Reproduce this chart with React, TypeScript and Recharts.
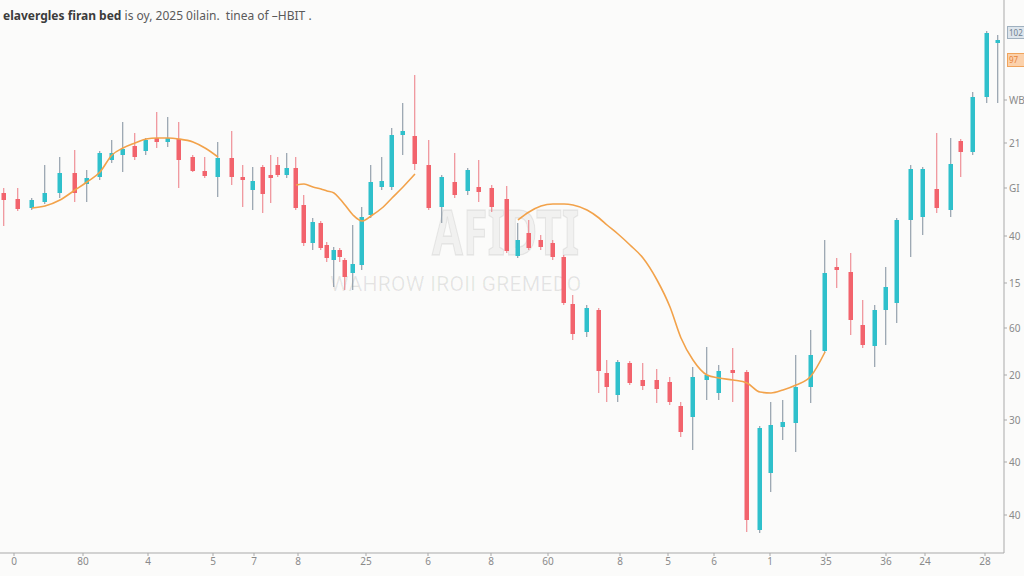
import { Bar, ComposedChart, Line, XAxis, YAxis } from 'recharts';

// session time of each candle, left to right
const sessions = [
  0.4, 1.8, 3.2, 4.5, 6.0, 7.5, 8.7, 10.0, 11.2, 12.3, 13.5, 14.6, 15.7, 16.8, 17.9, 19.3, 20.5, 21.8, 23.2, 24.3,
  25.3, 26.3, 27.1, 27.8, 28.7, 29.6, 30.4, 31.3, 32.1, 32.7, 33.4, 34.0, 34.5, 35.3, 36.2, 37.1, 38.2, 39.2, 40.3, 41.5,
  42.9, 44.2, 45.5, 46.8, 47.9, 49.2, 50.7, 51.8, 52.9, 54.1, 55.3, 56.4, 57.3, 58.7, 59.9, 60.7, 61.8, 63.0, 64.3, 65.7,
  67.0, 68.1, 69.3, 70.7, 71.9, 73.3, 74.7, 76.0, 77.1, 78.3, 79.6, 81.1, 82.5, 83.7, 85.1, 86.3, 87.5, 88.6, 89.7, 91.1,
  92.3, 93.7, 95.1, 96.1, 97.3, 98.7, 99.8,
];

const opens = [
  72, 70.8, 69, 70.2, 72, 76, 73.8, 75.2, 78.6, 79.6, 81.4, 80.4, 83, 82.2, 82.8, 79.2, 76.4, 75.2, 79, 75.2,
  72.6, 77.2, 75.6, 77.6, 75.6, 77, 69.6, 62, 66, 61.6, 58.6, 60.6, 58.6, 56, 57.6, 67.6, 73.2, 73.2, 83.6, 83.4,
  77.6, 69.2, 74.2, 72.4, 73.2, 73, 70.8, 59.4, 64, 62.6, 62, 59.2, 49.8, 44.2, 48.6, 36, 31.6, 38, 34.6, 34.6,
  34.2, 29.4, 27.2, 34.6, 32, 36.6, 36.2, 4.6, 16, 25.2, 26, 33.2, 40.4, 57.2, 56.2, 45.6, 41.4, 48.6, 50, 66.6,
  67.2, 72.8, 68.6, 82.4, 80.2, 91.2, 102,
];

const closes = [
  70.6, 68.8, 70.6, 72, 76, 72, 75, 80, 80, 80.8, 79.2, 82.6, 82.2, 83, 78.6, 76.4, 75.4, 79, 75.2, 74.6,
  74.4, 71.8, 75, 75.6, 77, 69, 62, 66.2, 61, 59, 60.6, 59.2, 55.2, 57.8, 67.2, 74.2, 74.4, 83.6, 84.4, 77.8,
  69, 75.2, 71.6, 76.6, 72.2, 69.2, 60.4, 62.6, 61, 61.2, 59.2, 50, 43.8, 49, 36.4, 33.2, 38.2, 34, 33.4, 32.8,
  30.2, 24.2, 35.2, 35.6, 36.4, 36, 6.6, 25, 25.6, 26.2, 33.2, 39.6, 56, 56.6, 46.6, 41.6, 48.6, 53.2, 66.6, 76.8,
  76.8, 69, 77.8, 80.2, 91.2, 104, 102.6,
];

const highs = [
  73, 73, 71, 77.6, 79.2, 80.6, 76.6, 80.4, 82.6, 86.2, 84, 83, 88.2, 87.2, 86.2, 79.6, 79.2, 82.2, 84.4, 77.6,
  77.2, 77.6, 79.6, 79.2, 80, 79.2, 71.6, 67, 66.4, 62.2, 61.2, 61, 59, 65.6, 69.2, 77.6, 79.2, 85, 90, 95.6,
  82.6, 75.6, 80, 77, 78.6, 73.6, 73.4, 66, 66.6, 63.6, 62.6, 59.6, 51.6, 49.6, 49, 38.6, 38.6, 38.4, 38, 36.8,
  35.2, 30.2, 37.2, 41.2, 37.6, 41, 36.6, 25.4, 30.2, 30.6, 39.6, 44.6, 62.6, 59, 60, 50.6, 49.6, 57.2, 67, 77.6,
  77.2, 84, 83, 82.8, 92.2, 104.4, 103.6,
];

const lows = [
  65.4, 68.4, 68.6, 69.8, 71, 70.2, 70.2, 74.6, 78, 76.2, 78.6, 79.6, 81, 81.2, 73, 76.2, 75, 71.2, 73.6, 69.2,
  68.6, 68, 70, 75.2, 75, 68.6, 61.4, 60.6, 60.6, 58.2, 53.2, 58.2, 52.6, 52.6, 56.6, 67, 72.6, 72.6, 79.6, 76.6,
  68.6, 66, 71, 71.6, 70.2, 68.2, 60, 59, 60.6, 60.6, 58.6, 49.6, 42.6, 43.2, 32, 30.2, 30.2, 33.6, 32.6, 30,
  29.6, 23.2, 20.6, 30.6, 30.6, 30.2, 4.2, 4, 12.2, 22.6, 20.2, 30, 40, 53, 43.6, 41, 37.2, 41.6, 46, 59.2,
  63.6, 68, 67.2, 75.2, 79.6, 90, 90,
];

// moving average, null where the curve is not drawn
const maValues = [
  null, null, 69, 69.4, 70.6, 72.6, 74.2, 76.2, 79.6, 81, 82, 82.8, 83, 83, 82.8, 82.2, 81, 79.2, null, null,
  null, null, null, null, null, 73.6, 73.8, 73.2, 72.8, 72.4, 72, 70.8, 69.6, 67.6, 66.4, 67.4, 69, 71, 73.2, 75.8,
  null, null, null, null, null, null, null, 66.6, 68.2, 69.4, 69.8, 69.8, 69.6, 68.6, 67, 65.6, 63.8, 61.6, 59, 54.6,
  49.2, 43, 38.6, 35.6, 35, 34.6, 34, 32.2, 32, 32.6, 33.6, 35.4, 40.2, null, null, null, null, null, null, null,
  null, null, null, null, null, null, null,
];

const xTickValues = [1.4, 8.3, 14.8, 21.3, 25.4, 29.8, 36.6, 42.8, 49.1, 54.8, 62.0, 66.8, 71.4, 77.0, 82.6, 88.6, 92.5, 98.5];
const xTickLabels = ['0', '80', '4', '5', '7', '8', '25', '6', '8', '60', '8', '5', '6', '1', '35', '36', '24', '28'];

const yTickValues = [90.6, 82, 73, 63.4, 54, 45, 35.6, 26.6, 18.2, 7.6];
const yTickLabels = ['WB', '21', 'GI', '40', '15', '60', '20', '30', '40', '40'];

const UP = '#2fc0cb';
const DOWN = '#f2636c';
const WICK_UP = '#7f8e9c';
const WICK_DOWN = '#ec7a82';

const data = sessions.map((t, i) => ({
  t,
  open: opens[i],
  close: closes[i],
  high: highs[i],
  low: lows[i],
  range: [lows[i], highs[i]],
  ma: maValues[i],
}));

function Candle(props: any) {
  const { x, y, width, height, payload } = props;
  if (x == null || y == null) return null;
  const top = Math.min(y, y + height);
  const h = Math.abs(height);
  const { open, close, high, low } = payload;
  const up = close >= open;
  const k = h / (high - low || 1);
  const bodyTop = top + (high - Math.max(open, close)) * k;
  const bodyBottom = top + (high - Math.min(open, close)) * k;
  const cx = x + width / 2;
  return (
    <g>
      <line x1={cx} x2={cx} y1={top} y2={top + h} stroke={up ? WICK_UP : WICK_DOWN} strokeWidth={1} />
      <rect x={x} y={bodyTop} width={width} height={Math.max(1.5, bodyBottom - bodyTop)} fill={up ? UP : DOWN} />
    </g>
  );
}

export default function App() {
  return (
    <div style={{ position: 'absolute', left: 0, top: 0, width: 1024, height: 576, background: '#fbfbfa', overflow: 'hidden', fontFamily: '"Noto Sans", sans-serif' }}>
      {/* watermark */}
      <div
        style={{
          position: 'absolute',
          left: 432,
          top: 200,
          fontSize: 62,
          fontWeight: 700,
          color: 'rgba(0,0,0,0.04)',
          WebkitTextStroke: '1.5px rgba(0,0,0,0.07)',
          lineHeight: 1,
          transform: 'scaleX(0.72)',
          transformOrigin: 'left top',
        }}
      >
        AFIDTI
      </div>
      <div style={{ position: 'absolute', left: 330, top: 274, fontSize: 21, color: 'rgba(0,0,0,0.09)', letterSpacing: 0.3, lineHeight: 1, fontFamily: 'Roboto, sans-serif' }}>
        WAHROW IROII GREMEDO
      </div>
      <div style={{ position: 'absolute', left: 0, top: 0 }}>
        <ComposedChart width={1024} height={576} data={data} margin={{ top: 0, right: 0, bottom: 0, left: 0 }}>
          <XAxis
            dataKey="t"
            type="number"
            domain={[0, 100.4]}
            ticks={xTickValues}
            interval={0}
            tickFormatter={(v) => xTickLabels[xTickValues.indexOf(v)] ?? ''}
            height={23}
            tickSize={3}
            stroke="#a9a9a9"
            tick={{ fill: '#8a8a8a', fontSize: 10 }}
          />
          <YAxis
            orientation="right"
            type="number"
            domain={[0, 110.6]}
            ticks={yTickValues}
            interval={0}
            tickFormatter={(v) => yTickLabels[yTickValues.indexOf(v)] ?? ''}
            width={20}
            tickSize={3}
            stroke="#a9a9a9"
            tick={{ fill: '#8a8a8a', fontSize: 10 }}
          />
          <Line type="monotone" dataKey="ma" stroke="#f2a24a" strokeWidth={1.6} dot={false} connectNulls={false} isAnimationActive={false} />
          <Bar dataKey="range" barSize={8} shape={Candle} isAnimationActive={false} />
        </ComposedChart>
      </div>
      {/* title */}
      <div style={{ position: 'absolute', left: 3, top: 7, fontSize: 12, color: '#5a5a5a', whiteSpace: 'nowrap' }}>
        <span style={{ fontWeight: 700, color: '#3c3c3c' }}>elavergles firan bed</span> is oy, 2025 0ilain.&nbsp; tinea of –HBIT .
      </div>
      {/* last price tags */}
      <div style={{ position: 'absolute', left: 1007, top: 26, width: 20, height: 11, background: '#dde5ec', border: '1px solid #9fb0bf', fontSize: 8, color: '#6d7f90', lineHeight: '11px', paddingLeft: 1 }}>
        102
      </div>
      <div style={{ position: 'absolute', left: 1007, top: 53, width: 20, height: 12, background: '#fbd1ab', border: '1px solid #f0a45c', fontSize: 8, color: '#e8843a', lineHeight: '12px', paddingLeft: 1 }}>
        97
      </div>
    </div>
  );
}
